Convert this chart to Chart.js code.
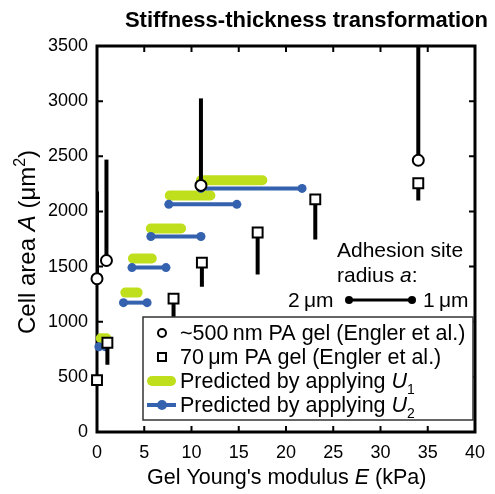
<!DOCTYPE html>
<html>
<head>
<meta charset="utf-8">
<script src="https://cdn.jsdelivr.net/npm/chart.js@4.4.1/dist/chart.umd.min.js"></script>
<style>
  body { margin: 0; background: #fff; }
  canvas { display: block; }
</style>
</head>
<body>
<canvas id="c" width="495" height="494"></canvas>
<script>
// ~500 nm PA gel (circles) with upper error bar ends
const circleE = [0, 1.0, 11.0, 34.0]
const circleArea = [1390, 1555, 2236, 2464]
const circleErrTo = [2180, 2470, 3025, 3500]

// 70 um PA gel (squares) with lower error bar ends
const squareE = [0, 1.1, 8.1, 11.1, 17.0, 23.1, 34.0]
const squareArea = [470, 809, 1209, 1536, 1809, 2109, 2255]
const squareErrTo = [470, 609, 900, 1318, 1427, 1745, 2100]

// predicted ranges, U1 (green bars)
const u1From = [0.4, 3.0, 3.8, 5.7, 7.7, 11.0]
const u1To = [1.0, 4.3, 5.8, 8.9, 12.0, 17.5]
const u1Area = [850, 1264, 1573, 1845, 2145, 2282]

// predicted ranges, U2 (blue lines)
const u2From = [0.2, 2.8, 3.7, 5.7, 7.6, 11.0]
const u2To = [0.9, 5.3, 7.3, 11.0, 14.8, 21.7]
const u2Area = [773, 1173, 1491, 1773, 2064, 2209]

const xTicks = [0, 5, 10, 15, 20, 25, 30, 35, 40]
const yTicks = [0, 500, 1000, 1500, 2000, 2500, 3000, 3500]

const GREEN = '#bfdf1c'
const BLUE = '#3562ae'
const FONT = '"Liberation Sans", Arial, sans-serif'

let datasets = []

// markers on top
datasets.push({
  data: circleE.map((e, i) => ({x: e, y: circleArea[i]})),
  pointStyle: 'circle', pointRadius: 5.5, borderWidth: 2,
  borderColor: '#000', backgroundColor: '#fff', order: 0, clip: 12
})
datasets.push({
  data: squareE.map((e, i) => ({x: e, y: squareArea[i]})),
  pointStyle: 'rect', pointRadius: 7, borderWidth: 2,
  borderColor: '#000', backgroundColor: '#fff', order: 0, clip: 12
})

// error bars
circleE.forEach((e, i) => {
  datasets.push({
    data: [{x: e, y: circleArea[i]}, {x: e, y: circleErrTo[i]}],
    showLine: true, borderColor: '#000', borderWidth: 4, pointRadius: 0, order: 1
  })
})
squareE.forEach((e, i) => {
  if (squareErrTo[i] === squareArea[i]) return
  datasets.push({
    data: [{x: e, y: squareArea[i]}, {x: e, y: squareErrTo[i]}],
    showLine: true, borderColor: '#000', borderWidth: 4, pointRadius: 0, order: 1
  })
})

// U2 lines
u2Area.forEach((a, i) => {
  datasets.push({
    data: [{x: u2From[i], y: a}, {x: u2To[i], y: a}],
    showLine: true, borderColor: BLUE, borderWidth: 4,
    pointRadius: 4.5, pointBorderWidth: 0, pointBackgroundColor: BLUE, order: 2, clip: 12
  })
})

// U1 bars
u1Area.forEach((a, i) => {
  datasets.push({
    data: [{x: u1From[i], y: a}, {x: u1To[i], y: a}],
    showLine: true, borderColor: GREEN, borderWidth: 10, borderCapStyle: 'round',
    pointRadius: 0, order: 3, clip: 12
  })
})

// draw mixed text: parts = [[text, style]] style: '', 'i', 'sub', 'sup'
function fontFor(style, size) {
  if (style === 'i') return `italic ${size}px ${FONT}`
  if (style === 'sub' || style === 'sup') return `${Math.round(size * 0.65)}px ${FONT}`
  return `${size}px ${FONT}`
}
function drawParts(ctx, parts, x, y, size) {
  ctx.textAlign = 'left'
  ctx.textBaseline = 'alphabetic'
  parts.forEach(p => {
    ctx.font = fontFor(p[1], size)
    let dy = 0
    if (p[1] === 'sub') dy = size * 0.3
    if (p[1] === 'sup') dy = -size * 0.4
    ctx.fillText(p[0], x, y + dy)
    x += ctx.measureText(p[0]).width
  })
}

const decor = {
  id: 'decor',
  beforeDatasetsDraw(chart) {
    const ctx = chart.ctx
    const a = chart.chartArea
    const xs = chart.scales.x, ys = chart.scales.y
    ctx.save()
    ctx.strokeStyle = '#000'
    ctx.lineWidth = 2
    const tl = 6
    xTicks.forEach(v => {
      const px = xs.getPixelForValue(v)
      ctx.beginPath()
      ctx.moveTo(px, a.bottom); ctx.lineTo(px, a.bottom - tl)
      ctx.moveTo(px, a.top); ctx.lineTo(px, a.top + tl)
      ctx.stroke()
    })
    yTicks.forEach(v => {
      const py = ys.getPixelForValue(v)
      ctx.beginPath()
      ctx.moveTo(a.left, py); ctx.lineTo(a.left + tl, py)
      ctx.moveTo(a.right, py); ctx.lineTo(a.right - tl, py)
      ctx.stroke()
    })
    ctx.lineWidth = 3
    ctx.strokeRect(a.left, a.top, a.right - a.left, a.bottom - a.top)
    ctx.restore()
  },
  afterDraw(chart) {
    const ctx = chart.ctx
    ctx.save()
    ctx.fillStyle = '#000'

    // title
    ctx.font = `bold 22px ${FONT}`
    ctx.textAlign = 'right'
    ctx.textBaseline = 'alphabetic'
    ctx.fillText('Stiffness-thickness transformation', 488, 27)

    // x title
    drawParts(ctx, [["Gel Young's modulus ", ''], ['E', 'i'], [' (kPa)', '']], 147, 484, 21.5)

    // y title
    const yParts = [['Cell area ', ''], ['A', 'i'], [' (\u03bcm', ''], ['2', 'sup'], [')', '']]
    ctx.save()
    ctx.translate(35, 334)
    ctx.rotate(-Math.PI / 2)
    drawParts(ctx, yParts, 0, 0, 24)
    ctx.restore()

    // annotation
    ctx.font = `21px ${FONT}`
    ctx.textAlign = 'left'
    ctx.fillText('Adhesion site', 337, 257)
    drawParts(ctx, [['radius ', ''], ['a', 'i'], [':', '']], 337, 282, 21)
    ctx.fillText('2\u2009\u03bcm', 288, 307)
    ctx.fillText('1\u2009\u03bcm', 423, 307)
    ctx.strokeStyle = '#000'
    ctx.lineWidth = 3
    ctx.beginPath(); ctx.moveTo(349, 300); ctx.lineTo(412, 300); ctx.stroke()
    ;[349, 412].forEach(x => { ctx.beginPath(); ctx.arc(x, 300, 4, 0, Math.PI * 2); ctx.fill() })

    // legend
    const L = {x: 143, y: 317, w: 330, h: 103}
    ctx.fillStyle = '#fff'
    ctx.fillRect(L.x, L.y, L.w, L.h)
    ctx.strokeStyle = '#333'
    ctx.lineWidth = 1.5
    ctx.strokeRect(L.x, L.y, L.w, L.h)
    ctx.fillStyle = '#000'
    const rows = [333, 357, 381, 405]
    const mx = 162, tx = 180
    ctx.lineWidth = 2
    ctx.strokeStyle = '#000'
    ctx.beginPath(); ctx.arc(mx, rows[0], 4, 0, Math.PI * 2); ctx.stroke()
    ctx.strokeRect(mx - 4, rows[1] - 4, 8, 8)
    ctx.strokeStyle = GREEN
    ctx.lineCap = 'round'
    ctx.lineWidth = 10
    ctx.beginPath(); ctx.moveTo(152, rows[2]); ctx.lineTo(171, rows[2]); ctx.stroke()
    ctx.lineCap = 'butt'
    ctx.strokeStyle = BLUE
    ctx.lineWidth = 4
    ctx.beginPath(); ctx.moveTo(147, rows[3]); ctx.lineTo(176, rows[3]); ctx.stroke()
    ctx.fillStyle = BLUE
    ctx.beginPath(); ctx.arc(mx, rows[3], 5, 0, Math.PI * 2); ctx.fill()
    ctx.fillStyle = '#000'
    const sh = 7
    drawParts(ctx, [['~500\u2009nm PA gel (Engler et al.)', '']], tx, rows[0] + sh, 21.5)
    drawParts(ctx, [['70\u2009\u03bcm PA gel (Engler et al.)', '']], tx, rows[1] + sh, 21.5)
    drawParts(ctx, [['Predicted by applying ', ''], ['U', 'i'], ['1', 'sub']], tx, rows[2] + sh, 21.5)
    drawParts(ctx, [['Predicted by applying ', ''], ['U', 'i'], ['2', 'sub']], tx, rows[3] + sh, 21.5)
    ctx.restore()
  }
}

new Chart(document.getElementById('c'), {
  type: 'scatter',
  data: { datasets: datasets },
  options: {
    responsive: false,
    animation: false,
    devicePixelRatio: 1,
    layout: { padding: { top: 46, right: 8, left: 0, bottom: 0 } },
    plugins: { legend: { display: false }, tooltip: { enabled: false }, title: { display: false } },
    scales: {
      x: {
        type: 'linear', min: 0, max: 40,
        afterFit: s => { s.height = 62 },
        afterBuildTicks: s => { s.ticks = xTicks.map(v => ({value: v})) },
        grid: { display: false, drawTicks: false },
        border: { display: false },
        ticks: { padding: 10, color: '#000', font: { family: FONT, size: 18 }, callback: v => String(v) }
      },
      y: {
        type: 'linear', min: 0, max: 3500,
        afterFit: s => { s.width = 97 },
        afterBuildTicks: s => { s.ticks = yTicks.map(v => ({value: v})) },
        grid: { display: false, drawTicks: false },
        border: { display: false },
        ticks: { padding: 9, color: '#000', font: { family: FONT, size: 18 }, callback: v => String(v) }
      }
    }
  },
  plugins: [decor]
})
</script>
</body>
</html>
